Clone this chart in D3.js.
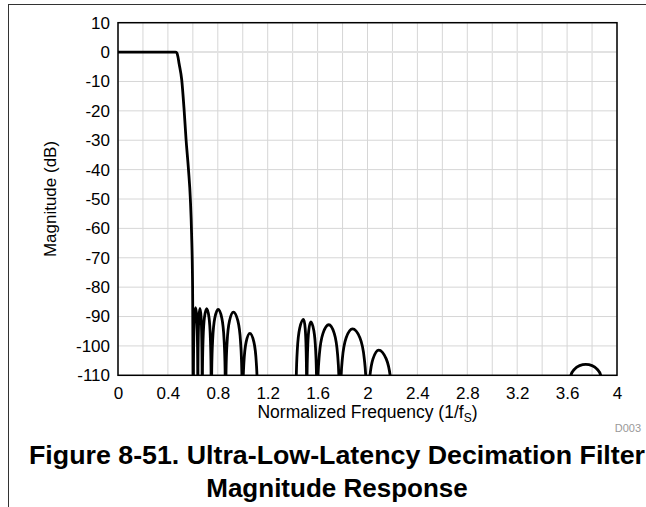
<!DOCTYPE html>
<html>
<head>
<meta charset="utf-8">
<script src="https://cdn.jsdelivr.net/npm/d3@7"></script>
<style>
  html, body { margin: 0; padding: 0; background: #fff; }
  svg { display: block; font-family: Arial, "Liberation Sans", sans-serif; }
</style>
</head>
<body>
<svg id="chart" width="646" height="507"></svg>
<script>
// ---- data ----
const xTicks = [0, 0.4, 0.8, 1.2, 1.6, 2, 2.4, 2.8, 3.2, 3.6, 4];
const yTicks = [10, 0, -10, -20, -30, -40, -50, -60, -70, -80, -90, -100, -110];
const freq = [
  0, 0.46, 0.472, 0.48, 0.49, 0.511, 0.53, 0.546, 0.565, 0.58, 0.59, 0.598, 0.604,
  0.605, 0.6076, 0.613, 0.622, 0.631, 0.6364, 0.639, 0.640,
  0.641, 0.6434, 0.6485, 0.657, 0.666, 0.6714, 0.674, 0.675,
  0.6772, 0.6822, 0.693, 0.711, 0.7295, 0.7406, 0.7458, 0.748,
  0.7513, 0.759, 0.7755, 0.803, 0.8325, 0.8502, 0.8585, 0.862,
  0.8658, 0.8746, 0.8935, 0.925, 0.961, 0.9826, 0.9927, 0.997,
  1.0006, 1.009, 1.027, 1.057, 1.0895, 1.109, 1.1181, 1.122,
  1.425,
  1.4288, 1.4376, 1.4565, 1.488, 1.5005, 1.508, 1.5115, 1.513,
  1.5149, 1.5194, 1.529, 1.545, 1.570, 1.585, 1.592, 1.595,
  1.6007, 1.614, 1.6425, 1.69, 1.734, 1.7604, 1.7727, 1.778,
  1.7841, 1.7984, 1.829, 1.88, 1.939, 1.9744, 1.9909, 1.998,
  2.0035, 2.0164, 2.044, 2.09, 2.15, 2.186, 2.2028, 2.21,
  3.60,
  3.63, 3.66, 3.70, 3.75, 3.80, 3.84, 3.87, 3.90,
  4.0
];
const magDb = [
  0, 0, -0.3, -1.5, -4, -9.5, -19.7, -30, -40, -50, -62, -80, -130,
  -107.5, -97.2, -90, -87, -90, -97.2, -107.5, -130,
  -107.7, -97.4, -90.2, -87.2, -90.2, -97.4, -107.7, -130,
  -107.8, -97.5, -90.3, -87.3, -90.3, -97.5, -107.8, -130,
  -108.1, -97.8, -90.6, -87.6, -90.6, -97.8, -108.1, -130,
  -109, -98.7, -91.5, -88.5, -91.5, -98.7, -109, -130,
  -116.2, -105.9, -98.7, -95.7, -98.7, -105.9, -116.2, -130,
  -130,
  -111.5, -101.2, -94, -91, -94, -101.2, -111.5, -130,
  -112.3, -102, -94.8, -91.8, -94.8, -102, -112.3, -130,
  -113.3, -103, -95.8, -92.8, -95.8, -103, -113.3, -130,
  -114.7, -104.4, -97.2, -94.2, -97.2, -104.4, -114.7, -130,
  -121.9, -111.6, -104.4, -101.4, -104.4, -111.6, -121.9, -130,
  -130,
  -110, -107.9, -106.7, -106.3, -106.7, -107.9, -110, -130,
  -130
];
const yTitle = "Magnitude (dB)";
const xTitleMain = "Normalized Frequency (1/f";
const xTitleSub = "S";
const tag = "D003";
const titleLines = ["Figure 8-51. Ultra-Low-Latency Decimation Filter", "Magnitude Response"];

// ---- layout ----
const svg = d3.select("#chart");
const L = 118, R = 617, T = 22.7, B = 375.3;
const x = d3.scaleLinear().domain([0, 4]).range([L, R]);
const y = d3.scaleLinear().domain([-110, 10]).range([B, T]);

// page frame (top + left edge)
svg.append("line").attr("x1", 8.5).attr("x2", 646).attr("y1", 4.5).attr("y2", 4.5)
  .attr("stroke", "#333").attr("stroke-width", 1);
svg.append("line").attr("x1", 8.5).attr("x2", 8.5).attr("y1", 4).attr("y2", 507)
  .attr("stroke", "#333").attr("stroke-width", 1);

// grid
const grid = svg.append("g");
grid.selectAll("line.gx").data(x.ticks(20)).enter().append("line")
  .attr("x1", d => x(d)).attr("x2", d => x(d)).attr("y1", T).attr("y2", B)
  .attr("stroke", "#d6d6d6").attr("stroke-width", 1);
grid.selectAll("line.gy").data(yTicks).enter().append("line")
  .attr("x1", L).attr("x2", R).attr("y1", d => y(d)).attr("y2", d => y(d))
  .attr("stroke", d => d === 0 ? "#e2e2e2" : "#d6d6d6")
  .attr("stroke-width", d => d === 0 ? 2 : 1);

// curve
svg.append("clipPath").attr("id", "clip").append("rect")
  .attr("x", L).attr("y", T).attr("width", R - L).attr("height", B - T);
const pts = freq.map((f, i) => [f, magDb[i]]);
const line = d3.line().x(d => x(d[0])).y(d => y(d[1])).curve(d3.curveMonotoneX);
svg.append("path").datum(pts).attr("clip-path", "url(#clip)")
  .attr("d", line).attr("fill", "none").attr("stroke", "#000")
  .attr("stroke-width", 2.8).attr("stroke-linejoin", "round");

// plot border
svg.append("rect").attr("x", L).attr("y", T).attr("width", R - L).attr("height", B - T)
  .attr("fill", "none").attr("stroke", "#000").attr("stroke-width", 1.5);

// axes
const fs = 17;
const yAxis = svg.append("g").attr("transform", `translate(${L},0)`)
  .call(d3.axisLeft(y).tickValues(yTicks).tickSize(0).tickPadding(8).tickFormat(d => String(d)));
const xAxis = svg.append("g").attr("transform", `translate(0,${B})`)
  .call(d3.axisBottom(x).tickValues(xTicks).tickSize(0).tickPadding(12).tickFormat(d => String(d)));
[yAxis, xAxis].forEach(g => {
  g.select(".domain").remove();
  g.selectAll("text").attr("font-size", fs).attr("fill", "#000")
    .attr("font-family", "Arial, 'Liberation Sans', sans-serif");
});

// axis titles
svg.append("text").attr("transform", `translate(56,${(T + B) / 2}) rotate(-90)`)
  .attr("text-anchor", "middle").attr("font-size", fs).text(yTitle);
const xt = svg.append("text").attr("x", (L + R) / 2).attr("y", 418)
  .attr("text-anchor", "middle").attr("font-size", 17.5);
xt.append("tspan").text(xTitleMain);
xt.append("tspan").attr("font-size", 12).attr("dy", 4).text(xTitleSub);
xt.append("tspan").attr("dy", -4).text(")");

// tag
svg.append("text").attr("x", 641).attr("y", 432).attr("text-anchor", "end")
  .attr("font-size", 11).attr("fill", "#999").text(tag);

// figure title
svg.append("text").attr("x", 337).attr("y", 464).attr("font-size", 26)
  .attr("text-anchor", "middle").attr("textLength", 616).attr("lengthAdjust", "spacingAndGlyphs")
  .attr("font-weight", "bold").text(titleLines[0]);
svg.append("text").attr("x", 337).attr("y", 497).attr("font-size", 26)
  .attr("text-anchor", "middle")
  .attr("font-weight", "bold").text(titleLines[1]);
</script>
</body>
</html>
